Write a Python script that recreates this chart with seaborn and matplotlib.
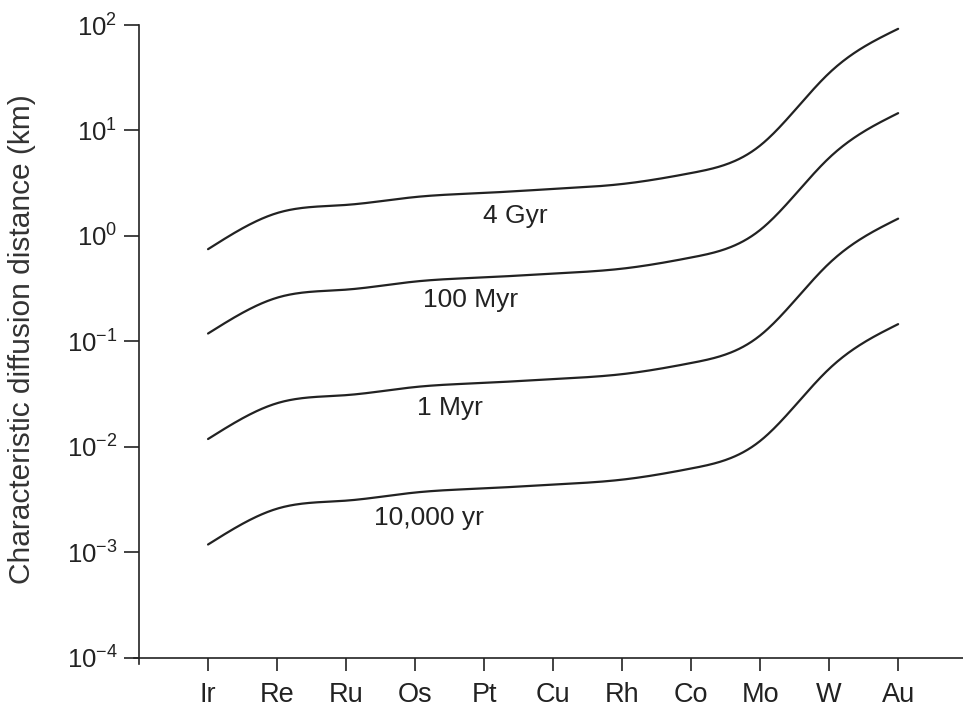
import numpy as np
import pandas as pd
import matplotlib
matplotlib.use("Agg")
import matplotlib.pyplot as plt
import seaborn as sns

# Siderophile elements on the x axis
elements = ["Ir", "Re", "Ru", "Os", "Pt", "Cu", "Rh", "Co", "Mo", "W", "Au"]

# Characteristic diffusion distance (km) for each time scale
dist_4gyr = [0.75, 1.65, 1.97, 2.34, 2.56, 2.79, 3.11, 3.95, 7.2, 35.0, 92.0]
dist_100myr = [0.119, 0.26, 0.31, 0.37, 0.405, 0.44, 0.49, 0.625, 1.14, 5.5, 14.6]
dist_1myr = [0.0119, 0.026, 0.031, 0.037, 0.0405, 0.044, 0.049, 0.0625, 0.114, 0.55, 1.46]
dist_10kyr = [0.00119, 0.0026, 0.0031, 0.0037, 0.00405, 0.0044, 0.0049, 0.00625, 0.0114, 0.055, 0.146]

series_names = ["4 Gyr", "100 Myr", "1 Myr", "10,000 yr"]
series_values = [dist_4gyr, dist_100myr, dist_1myr, dist_10kyr]

# Curve label anchors: (x position in element units, distance in km)
label_pos = [(4.45, 1.55), (3.8, 0.245), (3.5, 0.0235), (3.2, 0.0021)]


def natural_spline(y, xs):
    """Natural cubic spline through equally spaced points y at x = 0..n-1."""
    y = np.asarray(y, float)
    n = len(y)
    A = np.zeros((n, n))
    b = np.zeros(n)
    A[0, 0] = A[-1, -1] = 1.0
    for i in range(1, n - 1):
        A[i, i - 1], A[i, i], A[i, i + 1] = 1.0, 4.0, 1.0
        b[i] = 6.0 * (y[i + 1] - 2.0 * y[i] + y[i - 1])
    M = np.linalg.solve(A, b)
    idx = np.clip(np.floor(xs).astype(int), 0, n - 2)
    t = xs - idx
    u = 1.0 - t
    return (u * y[idx] + t * y[idx + 1]
            + (u**3 - u) * M[idx] / 6.0 + (t**3 - t) * M[idx + 1] / 6.0)


xpos = np.arange(len(elements))
xs = np.linspace(0, len(elements) - 1, 500)
frames = []
for name, vals in zip(series_names, series_values):
    ys = 10 ** natural_spline(np.log10(vals), xs)
    frames.append(pd.DataFrame({"x": xs, "dist": ys, "age": name}))
df = pd.concat(frames, ignore_index=True)

sns.set_theme(style="ticks")
plt.rcParams["font.family"] = ["Liberation Sans", "DejaVu Sans"]
plt.rcParams["mathtext.fontset"] = "custom"
plt.rcParams["mathtext.rm"] = "Liberation Sans"
plt.rcParams["mathtext.it"] = "Liberation Sans:italic"
plt.rcParams["mathtext.bf"] = "Liberation Sans:bold"

ink = "#222222"
W, H = 963, 711
# axes box in pixels: x from -1.07 to 10.94 units, y from 10^-4.06 to 10^2
left_px, right_px = 134.2, 963.0
top_px, bottom_px = 25.0, 664.3
fig = plt.figure(figsize=(W / 100, H / 100), dpi=100)
ax = fig.add_axes([left_px / W, 1 - bottom_px / H,
                   (right_px - left_px) / W, (bottom_px - top_px) / H])

sns.lineplot(data=df, x="x", y="dist", units="age", estimator=None,
             color=ink, linewidth=1.6, ax=ax, legend=False)

ax.set_yscale("log")
ax.set_ylim(10 ** -4.06, 100)
ax.set_xlim(-1.07, 10.94)

ax.spines["top"].set_visible(False)
ax.spines["right"].set_visible(False)
ax.spines["left"].set_position(("data", -1.0))
ax.spines["left"].set_bounds(10 ** -4.06, 100)
ax.spines["bottom"].set_position(("data", 1e-4))
for s in ("left", "bottom"):
    ax.spines[s].set_color(ink)
    ax.spines[s].set_linewidth(1.2)

ax.set_xticks(xpos)
ax.set_xticklabels(elements)
yt = [1e-4, 1e-3, 1e-2, 1e-1, 1e0, 1e1, 1e2]
ax.set_yticks(yt)
ax.set_yticklabels([r"$10^{%d}$" % e for e in range(-4, 3)])
ax.yaxis.set_minor_locator(matplotlib.ticker.NullLocator())
ax.tick_params(axis="both", direction="out", width=1.2,
               color=ink, labelcolor=ink)
ax.tick_params(axis="x", length=9.5, pad=8, labelsize=19.5)
ax.tick_params(axis="y", length=10.5, pad=5, labelsize=18.5)

ax.set_xlabel("")
ax.set_ylabel("Characteristic diffusion distance (km)", fontsize=21.5,
              color="#333333")
ax.yaxis.set_label_coords(-0.118, 0.509)

for name, (lx, ly) in zip(series_names, label_pos):
    ax.text(lx, ly, name, fontsize=19, color=ink,
            ha="center", va="center")

fig.savefig("out.png", dpi=100)
